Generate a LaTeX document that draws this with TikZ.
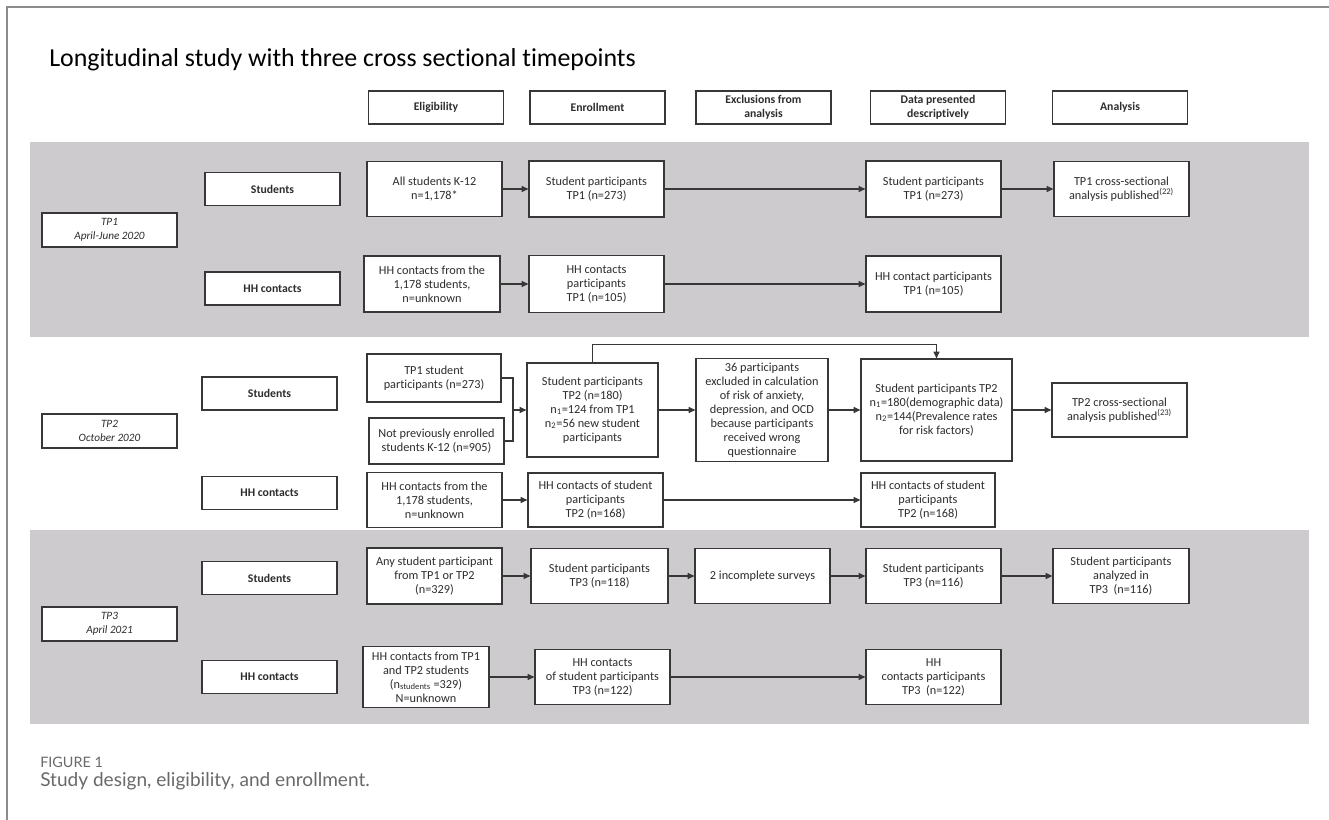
\documentclass[tikz,border=0pt]{standalone}
\usepackage{fontspec}
\setmainfont{Carlito}[Ligatures=NoCommon]
\newfontfamily\capfont{Lato}
\usetikzlibrary{arrows.meta}

\definecolor{bandgray}{RGB}{205,203,205}
\definecolor{boxline}{RGB}{55,55,55}
\definecolor{txt}{RGB}{45,45,45}
\definecolor{framegray}{RGB}{140,140,140}
\definecolor{capgray}{RGB}{105,105,105}

\tikzset{
  box/.style 2 args={draw=boxline, line width=0.9pt, fill=white, align=center, text=txt,
    inner sep=1pt, minimum width=#1*0.75pt, minimum height=#2*0.75pt,
    font=\fontsize{9.2}{10.5}\selectfont},
  headbox/.style={box={135}{33}, font=\bfseries\fontsize{8.8}{10.5}\selectfont},
  groupbox/.style={box={135}{33}, font=\bfseries\fontsize{8.8}{10}\selectfont},
  tpbox/.style={box={135}{34}, font=\itshape\fontsize{8.4}{10.5}\selectfont},
  arr/.style={draw=boxline, line width=0.8pt, -{Triangle[length=5pt,width=4.5pt]}},
  link/.style={draw=boxline, line width=0.8pt}
}

\begin{document}
\begin{tikzpicture}[x=0.75pt,y=0.75pt,yscale=-1,xscale=1]
\useasboundingbox (0,0) rectangle (1329,820);

%Shape: Frame
\draw [framegray, line width=1.1pt] (7,820) -- (7,7) -- (1329,7) ;
%Shape: Rectangle [band TP1]
\fill [bandgray] (30,142) rectangle (1309,337) ;
%Shape: Rectangle [band TP3]
\fill [bandgray] (30,530) rectangle (1309,724) ;

% Text Node
\node (title) [anchor=base west, inner sep=0pt, font=\fontsize{19.4}{22}\selectfont, text=black] at (49,67) {Longitudinal study with three cross sectional timepoints};

% header row
\node (helig) [headbox] at (436,107.5) {Eligibility};
\node (henrol) [headbox] at (597.5,107.5) {Enrollment};
\node (hexcl) [headbox] at (763.5,107.5) {Exclusions from\\analysis};
\node (hdata) [headbox] at (938,107.5) {Data presented\\descriptively};
\node (hanal) [headbox] at (1120,107.5) {Analysis};

% TP1
\node (tpone) [tpbox] at (109.5,230) {TP1\\April-June 2020};
\node (stuone) [groupbox] at (272.5,189) {Students};
\node (hhone) [groupbox] at (272.5,288.5) {HH contacts};
\node (eligone) [box={135}{55}] at (434.5,189) {All students K-12\\n=1,178*};
\node (enrolone) [box={135}{56}] at (596.5,189) {Student participants\\TP1 (n=273)};
\node (dataone) [box={135}{56}] at (933.5,189) {Student participants\\TP1 (n=273)};
\node (analone) [box={135}{55}] at (1121.5,189) {TP1 cross-sectional\\analysis published\textsuperscript{(22)}};
\node (hheligone) [box={136}{56}] at (432,284) {HH contacts from the\\1,178 students,\\n=unknown};
\node (hhenrolone) [box={135}{57}] at (596.5,284) {HH contacts\\participants\\TP1 (n=105)};
\node (hhdataone) [box={135}{56}] at (933.5,284) {HH contact participants\\TP1 (n=105)};

\draw [arr] (eligone) -- (enrolone);
\draw [arr] (enrolone) -- (dataone);
\draw [arr] (dataone) -- (analone);
\draw [arr] (hheligone) -- (hhenrolone);
\draw [arr] (hhenrolone) -- (hhdataone);

% TP2
\node (tptwo) [tpbox] at (109.5,431) {TP2\\October 2020};
\node (stutwo) [groupbox] at (269.5,393.5) {Students};
\node (hhtwo) [groupbox] at (269.5,493) {HH contacts};
\node (eligtwoa) [box={134}{48}] at (434,378) {TP1 student\\participants (n=273)};
\node (eligtwob) [box={135}{46}] at (436.5,441) {Not previously enrolled\\students K-12 (n=905)};
\node (enroltwo) [box={131}{94}] at (592.5,410) {Student participants\\TP2 (n=180)\\n\textsubscript{1}=124 from TP1\\n\textsubscript{2}=56 new student\\participants};
\node (excltwo) [box={132}{103}] at (762,410) {36 participants\\excluded in calculation\\of risk of anxiety,\\depression, and OCD\\because participants\\received wrong\\questionnaire};
\node (datatwo) [box={151}{102}] at (936.5,410) {Student participants TP2\\n\textsubscript{1}=180(demographic data)\\n\textsubscript{2}=144(Prevalence rates\\for risk factors)};
\node (analtwo) [box={135}{54}] at (1119.5,410) {TP2 cross-sectional\\analysis published\textsuperscript{(23)}};
\node (hheligtwo) [box={135}{55}] at (434.5,500) {HH contacts from the\\1,178 students,\\n=unknown};
\node (hhenroltwo) [box={135}{54}] at (595.5,500) {HH contacts of student\\participants\\TP2 (n=168)};
\node (hhdatatwo) [box={134}{54}] at (928,500) {HH contacts of student\\participants\\TP2 (n=168)};
\coordinate (join) at (513,410);

\draw [link] (eligtwoa.east) -| (join) |- (eligtwob.east);
\draw [arr] (join) -- (enroltwo);
\draw [arr] (enroltwo.north) -- ++(0,-18) -| (datatwo.north);
\draw [arr] (enroltwo) -- (excltwo);
\draw [arr] (excltwo) -- (datatwo);
\draw [arr] (datatwo) -- (analtwo);
\draw [arr] (hheligtwo) -- (hhenroltwo);
\draw [arr] (hhenroltwo) -- (hhdatatwo);

% TP3
\node (tpthree) [tpbox] at (109.5,624) {TP3\\April 2021};
\node (stuthree) [groupbox] at (269.5,578) {Students};
\node (hhthree) [groupbox] at (269.5,677) {HH contacts};
\node (eligthree) [box={135}{56}] at (434.5,576) {Any student participant\\from TP1 or TP2\\(n=329)};
\node (enrolthree) [box={137}{55}] at (599.5,576) {Student participants\\TP3 (n=118)};
\node (exclthree) [box={135}{55}] at (762.5,576) {2 incomplete surveys};
\node (datathree) [box={135}{55}] at (933.5,576) {Student participants\\TP3 (n=116)};
\node (analthree) [box={136}{55}] at (1121,576) {Student participants\\analyzed in\\TP3 ~(n=116)};
\node (hheligthree) [box={126}{61}] at (426,677) {HH contacts from TP1\\and TP2 students\\(n\textsubscript{students} =329)\\N=unknown};
\node (hhenrolthree) [box={135}{55}] at (602.5,677) {HH contacts\\of student participants\\TP3 (n=122)};
\node (hhdatathree) [box={135}{55}] at (933.5,677) {HH\\contacts participants\\TP3 ~(n=122)};

\draw [arr] (eligthree) -- (enrolthree);
\draw [arr] (enrolthree) -- (exclthree);
\draw [arr] (exclthree) -- (datathree);
\draw [arr] (datathree) -- (analthree);
\draw [arr] (hheligthree) -- (hhenrolthree);
\draw [arr] (hhenrolthree) -- (hhdatathree);

% Text Node
\node (capnum) [anchor=base west, inner sep=0pt, font=\capfont\fontsize{10.8}{12}\selectfont, text=capgray] at (40,767) {FIGURE 1};
% Text Node
\node (captext) [anchor=base west, inner sep=0pt, font=\capfont\fontsize{14.3}{16}\selectfont, text=capgray] at (40,786) {Study design, eligibility, and enrollment.};

\end{tikzpicture}
\end{document}
